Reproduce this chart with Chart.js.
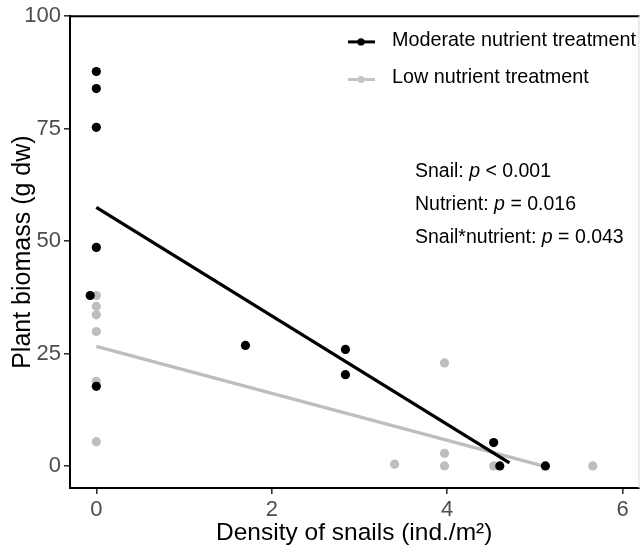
<!DOCTYPE html>
<html>
<head>
<meta charset="utf-8">
<script src="https://cdn.jsdelivr.net/npm/chart.js@4/dist/chart.umd.min.js"></script>
<style>
  html, body { margin: 0; padding: 0; background: #fff; overflow: hidden; }
  canvas { display: block; }
</style>
</head>
<body>
<canvas id="chart" width="643" height="548"></canvas>
<script>
// values
const MODERATE_X = [0, 0, 0, 0, -0.07, 0, 1.70, 2.84, 2.84, 4.53, 4.60, 5.12];
const MODERATE_Y = [87.7, 83.9, 75.3, 48.6, 37.9, 17.7, 26.8, 25.9, 20.3, 5.2, 0, 0];
const LOW_X = [0, 0, 0, 0, 0, 0, 3.40, 3.97, 3.97, 3.97, 4.53, 5.66];
const LOW_Y = [37.9, 35.5, 33.6, 29.9, 18.8, 5.4, 0.4, 22.9, 2.8, 0, 0, 0];

// fitted regression lines (end points)
const MODERATE_FIT_X = [0, 4.71];
const MODERATE_FIT_Y = [57.5, 0.7];
const LOW_FIT_X = [0, 5.09];
const LOW_FIT_Y = [26.6, 0];

const X_TICKS = [0, 2, 4, 6];
const Y_TICKS = [0, 25, 50, 75, 100];

const SERIES_NAMES = ["Moderate nutrient treatment", "Low nutrient treatment"];
const STAT_LABELS = ["Snail: ", "Nutrient: ", "Snail*nutrient: "];
const STAT_VALUES = ["< 0.001", "= 0.016", "= 0.043"];

const BLACK = "#000000";
const GREY = "#bebebe";
const FONT = "'Liberation Sans', Arial, Helvetica, sans-serif";

function pairs(xs, ys) {
  return xs.map((x, i) => ({ x, y: ys[i] }));
}

// top/right panel edge, inside legend and the p-value block
const overlay = {
  id: "overlay",
  afterDraw(chart) {
    const { ctx, chartArea } = chart;
    ctx.save();
    ctx.strokeStyle = BLACK;
    ctx.lineWidth = 2;
    ctx.beginPath();
    ctx.moveTo(chartArea.left, chartArea.top);
    ctx.lineTo(chartArea.right + 1, chartArea.top);
    ctx.stroke();
    ctx.strokeStyle = "#d6d6d6";
    ctx.lineWidth = 1;
    ctx.beginPath();
    ctx.moveTo(chartArea.right + 0.5, chartArea.top);
    ctx.lineTo(chartArea.right + 0.5, chartArea.bottom);
    ctx.stroke();

    // legend
    const keyColors = [BLACK, "#c4c4c4"];
    const rowBaselines = [45.7, 83.3];
    ctx.font = "19.8px " + FONT;
    ctx.textBaseline = "alphabetic";
    SERIES_NAMES.forEach((name, i) => {
      const ky = rowBaselines[i] - 3.8;
      ctx.strokeStyle = keyColors[i];
      ctx.lineWidth = 3;
      ctx.beginPath();
      ctx.moveTo(348, ky);
      ctx.lineTo(375, ky);
      ctx.stroke();
      ctx.fillStyle = keyColors[i];
      ctx.beginPath();
      ctx.arc(361, ky, 3.6, 0, Math.PI * 2);
      ctx.fill();
      ctx.fillStyle = BLACK;
      ctx.fillText(name, 392, rowBaselines[i]);
    });

    // statistics
    const statBaselines = [176.7, 210, 243.3];
    STAT_LABELS.forEach((label, i) => {
      let x = 415;
      const y = statBaselines[i];
      ctx.font = "19.5px " + FONT;
      ctx.fillText(label, x, y);
      x += ctx.measureText(label).width;
      ctx.font = "italic 19.5px " + FONT;
      ctx.fillText("p", x, y);
      x += ctx.measureText("p").width;
      ctx.font = "19.5px " + FONT;
      ctx.fillText(" " + STAT_VALUES[i], x, y);
    });
    ctx.restore();
  },
};

new Chart(document.getElementById("chart"), {
  type: "scatter",
  data: {
    datasets: [
      {
        label: SERIES_NAMES[0],
        data: pairs(MODERATE_X, MODERATE_Y),
        backgroundColor: BLACK,
        borderWidth: 0,
        pointRadius: 4.6,
      },
      {
        label: SERIES_NAMES[1],
        data: pairs(LOW_X, LOW_Y),
        backgroundColor: GREY,
        borderWidth: 0,
        pointRadius: 4.6,
      },
      {
        label: SERIES_NAMES[0] + " fit",
        data: pairs(MODERATE_FIT_X, MODERATE_FIT_Y),
        showLine: true,
        borderColor: BLACK,
        borderWidth: 3.3,
        pointRadius: 0,
      },
      {
        label: SERIES_NAMES[1] + " fit",
        data: pairs(LOW_FIT_X, LOW_FIT_Y),
        showLine: true,
        borderColor: GREY,
        borderWidth: 3.3,
        pointRadius: 0,
      },
    ],
  },
  options: {
    responsive: false,
    animation: false,
    devicePixelRatio: 1,
    layout: { padding: { top: 15, right: 1, left: 0, bottom: 0 } },
    plugins: { legend: { display: false }, tooltip: { enabled: false } },
    scales: {
      x: {
        type: "linear",
        min: -0.3,
        max: 6.18,
        afterBuildTicks: (scale) => { scale.ticks = X_TICKS.map((v) => ({ value: v })); },
        afterFit: (scale) => { scale.height = 60; },
        border: { display: true, color: BLACK, width: 2 },
        grid: { drawOnChartArea: false, drawTicks: true, tickLength: 6, color: "#333333", lineWidth: 1.6 },
        ticks: { color: "#4d4d4d", font: { family: FONT, size: 22 }, padding: 3, maxRotation: 0 },
        title: {
          display: true,
          text: "Density of snails (ind./m²)",
          color: BLACK,
          font: { family: FONT, size: 24.5 },
          padding: { top: 0, bottom: 0 },
        },
      },
      y: {
        type: "linear",
        min: -4.9,
        max: 100,
        afterBuildTicks: (scale) => { scale.ticks = Y_TICKS.map((v) => ({ value: v })); },
        afterFit: (scale) => { scale.width = 70; },
        border: { display: true, color: BLACK, width: 2 },
        grid: { drawOnChartArea: false, drawTicks: true, tickLength: 6, color: "#333333", lineWidth: 1.6 },
        ticks: { color: "#4d4d4d", font: { family: FONT, size: 22 }, padding: 3 },
        title: {
          display: true,
          text: "Plant biomass (g dw)",
          color: BLACK,
          font: { family: FONT, size: 25 },
          padding: { top: 8, bottom: 0 },
        },
      },
    },
  },
  plugins: [overlay],
});
</script>
</body>
</html>
